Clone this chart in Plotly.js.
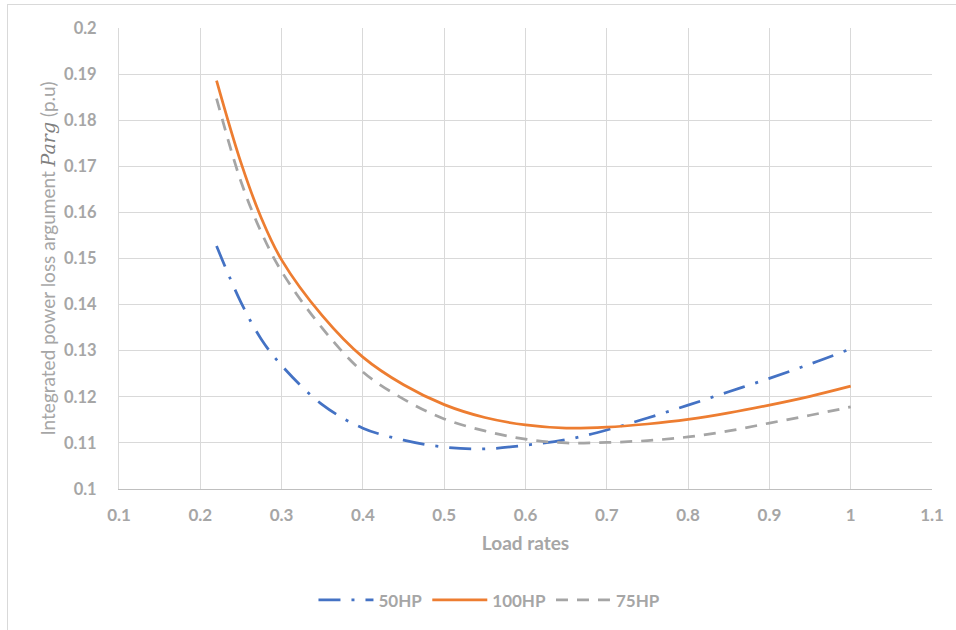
<!DOCTYPE html>
<html>
<head>
<meta charset="utf-8">
<script src="https://cdn.plot.ly/plotly-3.0.1.min.js"></script>
<style>
  html, body { margin: 0; padding: 0; background: #fff; }
  #wrap { position: relative; width: 956px; height: 630px; overflow: hidden; }
  #chart { position: absolute; left: 0; top: 0; width: 956px; height: 630px; }
  #frame { position: absolute; left: 7px; top: 4px; width: 980px; height: 660px;
           border-left: 1px solid #D9D9D9; border-top: 1px solid #D9D9D9; pointer-events: none; }
</style>
</head>
<body>
<div id="wrap">
  <div id="chart"></div>
  <div id="frame"></div>
</div>
<script>
const loadRates = [0.22, 0.25, 0.275, 0.30, 0.35, 0.40, 0.45, 0.50, 0.55, 0.60, 0.65, 0.70, 0.75, 0.80, 0.85, 0.90, 0.95, 1.00];
const hp50  = [0.1527, 0.1405, 0.1325, 0.1268, 0.1183, 0.1132, 0.1106, 0.1091, 0.1087, 0.1095, 0.1107, 0.1128, 0.1154, 0.1182, 0.1211, 0.1240, 0.1271, 0.1304];
const hp100 = [0.1886, 0.1708, 0.1588, 0.1497, 0.1376, 0.1286, 0.1226, 0.1183, 0.1155, 0.1139, 0.1132, 0.1134, 0.1141, 0.1151, 0.1165, 0.1182, 0.1201, 0.1223];
const hp75  = [0.1847, 0.1667, 0.1557, 0.1472, 0.1349, 0.1254, 0.1195, 0.1152, 0.1126, 0.1108, 0.1100, 0.1101, 0.1105, 0.1113, 0.1126, 0.1143, 0.1160, 0.1178];
const seriesNames = ['50HP', '100HP', '75HP'];

const gray = '#A6A6A6';
const fontFam = 'Lato, "Open Sans", "Liberation Sans", sans-serif';

const traces = [
  { x: loadRates, y: hp50, name: seriesNames[0], mode: 'lines',
    line: { color: '#4472C4', width: 2.75, shape: 'spline', dash: '22px,11px,3px,11px' } },
  { x: loadRates, y: hp100, name: seriesNames[1], mode: 'lines',
    line: { color: '#ED7D31', width: 2.75, shape: 'spline' } },
  { x: loadRates, y: hp75, name: seriesNames[2], mode: 'lines',
    line: { color: '#A5A5A5', width: 2.75, shape: 'spline', dash: '12px,9px' } }
];

const layout = {
  width: 956, height: 630,
  paper_bgcolor: 'rgba(0,0,0,0)', plot_bgcolor: '#fff',
  margin: { l: 119, r: 24, t: 28, b: 141 },
  font: { family: fontFam, color: gray, size: 17 },
  showlegend: true,
  legend: {
    orientation: 'h', x: 0.512, xref: 'container', xanchor: 'center',
    y: 0.047, yref: 'container', yanchor: 'middle',
    font: { family: fontFam, size: 17, color: gray, weight: 'bold' },
    itemwidth: 55, tracegroupgap: 0
  },
  xaxis: {
    range: [0.1, 1.1], dtick: 0.1, tick0: 0.1,
    showgrid: true, gridcolor: '#D9D9D9', gridwidth: 1,
    zeroline: false, showline: true, linecolor: '#BFBFBF', linewidth: 1,
    ticks: '', ticklabelstandoff: 11,
    tickfont: { family: fontFam, size: 17, color: gray, weight: 'bold' },
    title: { text: 'Load rates', standoff: 12,
             font: { family: fontFam, size: 19, color: gray, weight: 'bold' } }
  },
  yaxis: {
    range: [0.1, 0.2], dtick: 0.01, tick0: 0.1,
    showgrid: true, gridcolor: '#D9D9D9', gridwidth: 1,
    zeroline: false, showline: true, linecolor: '#D9D9D9', linewidth: 1,
    ticks: '', ticklabelstandoff: 18,
    tickfont: { family: fontFam, size: 16.5, color: gray, weight: 'bold' },
    title: { text: 'Integrated power loss argument <span style="font-family:\'DejaVu Serif\',serif;font-style:italic;color:#7F7F7F">Parg</span> (p.u)',
             standoff: 3,
             font: { family: fontFam, size: 19, color: gray } }
  }
};

Plotly.newPlot('chart', traces, layout, { displayModeBar: false, staticPlot: true });
</script>
</body>
</html>
